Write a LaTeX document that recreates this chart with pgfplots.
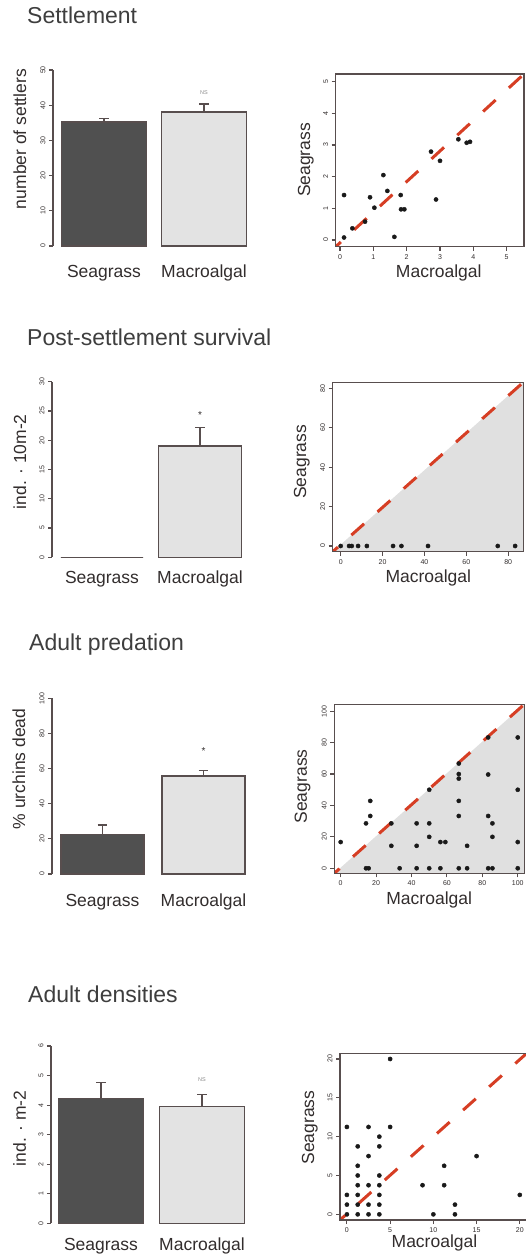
\documentclass[border=0pt]{standalone}
\usepackage{fontspec}
\setmainfont{Liberation Sans}
\usepackage{pgfplots}
\pgfplotsset{compat=1.18}
\definecolor{axc}{RGB}{88,78,78}
\definecolor{txt}{RGB}{50,45,45}
\definecolor{titc}{RGB}{62,62,62}
\definecolor{darkbar}{RGB}{80,80,80}
\definecolor{lightbar}{RGB}{227,227,227}
\definecolor{shade}{RGB}{224,224,224}
\definecolor{redc}{RGB}{214,62,36}
\definecolor{ptc}{RGB}{25,25,25}
\definecolor{nsc}{RGB}{140,140,140}
\newcommand\tickfont{\fontsize{7bp}{8bp}\selectfont}
\newcommand\labfont{\fontsize{17.5bp}{20bp}\selectfont}
\newcommand\titfont{\fontsize{23bp}{26bp}\selectfont}
\newcommand\nsfont{\fontsize{5.5bp}{6bp}\selectfont}
\newcommand\starfont{\fontsize{10bp}{12bp}\selectfont}

\pgfplotsset{
  barax/.style={scale only axis, anchor=south west, enlargelimits=false, clip=false,
    axis y line*=left, axis x line*=bottom,
    x axis line style={draw=none},
    y axis line style={line width=1.3bp, draw=axc, -},
    xtick={1,2}, xticklabels={Seagrass,Macroalgal},
    x tick style={draw=none},
    y tick style={line width=1.1bp, draw=axc},
    tick align=outside, major tick length=4bp,
    xticklabel style={font=\labfont, text=txt, anchor=base},
    yticklabel style={font=\tickfont, text=txt, rotate=90, anchor=south},
    ylabel style={font=\labfont, text=txt, anchor=base},
    /pgf/number format/assume math mode=true,
  },
  barbase/.style={ybar, bar shift=0pt, draw=axc, line width=1.3bp},
  barerr/.style={barbase,
    error bars/y dir=plus, error bars/y explicit,
    error bars/error bar style={line width=1.3bp, draw=axc, solid},
    error bars/error mark options={rotate=90, line width=1.3bp, draw=axc, mark size=4.8bp, solid}},
  scat/.style={scale only axis, anchor=south west, enlargelimits=false, axis on top,
    axis line style={line width=1.3bp, draw=axc},
    tick align=outside, xtick pos=left, ytick pos=left, major tick length=4bp,
    tick style={line width=1.1bp, draw=axc},
    xticklabel style={font=\tickfont, text=txt},
    yticklabel style={font=\tickfont, text=txt, rotate=90, anchor=south},
    xlabel={Macroalgal}, ylabel={Seagrass},
    xlabel style={font=\labfont, text=txt, anchor=base},
    ylabel style={font=\labfont, text=txt, anchor=base},
    /pgf/number format/assume math mode=true,
  },
  oneone/.style={draw=redc, line width=3bp, dash pattern=on 17bp off 18bp, dash phase=10bp},
  pts/.style={only marks, mark=*, mark size=2.1bp, mark options={fill=ptc, draw=ptc}},
}

\begin{document}
\begin{tikzpicture}
\path[use as bounding box] (0,0) rectangle (526bp,-1255bp);
\clip (0,0) rectangle (526bp,-1255bp);

% ---------- titles ----------
\node[anchor=base west, font=\titfont, text=titc, inner sep=0] at (27bp,-23.3bp) {Settlement};
\node[anchor=base west, font=\titfont, text=titc, inner sep=0] at (27bp,-345.3bp) {Post-settlement survival};
\node[anchor=base west, font=\titfont, text=titc, inner sep=0] at (29bp,-650.7bp) {Adult predation};
\node[anchor=base west, font=\titfont, text=titc, inner sep=0] at (28bp,-1002.7bp) {Adult densities};

% ---------- Settlement bars ----------
\begin{axis}[barax, at={(53bp,-246bp)}, width=197bp, height=176bp,
  xmin=0.49, xmax=2.46, ymin=0, ymax=50, ytick={0,10,...,50},
  xticklabel style={yshift=-27.3bp},
  ylabel={number of settlers}, ylabel style={at={(axis description cs:-0.137,0.608)}}]
\addplot[barerr, bar width=0.85, fill=darkbar] coordinates {(1,35.2) +- (0,1.1)};
\addplot[barerr, bar width=0.85, fill=lightbar] coordinates {(2,38.1) +- (0,2.2)};
\node[font=\nsfont, text=nsc] at (axis cs:2,43.5) {NS};
\end{axis}

% ---------- Settlement scatter ----------
\begin{axis}[scat, at={(335.7bp,-246.7bp)}, width=188.3bp, height=172.7bp,
  xmin=-0.13, xmax=5.52, ymin=-0.21, ymax=5.24, xtick={0,...,5}, ytick={0,...,5},
  xlabel style={at={(axis description cs:0.5475,-0.177)}},
  ylabel style={at={(axis description cs:-0.1365,0.502)}}]
\addplot[oneone] coordinates {(-0.13,-0.21) (5.52,5.24)};
\addplot[pts] coordinates {(0.12,1.42) (0.12,0.08) (0.37,0.37) (0.75,0.58) (0.9,1.35)
  (1.03,1.02) (1.3,2.05) (1.42,1.55) (1.63,0.1) (1.82,1.42) (1.83,0.97) (1.93,0.97)
  (2.73,2.79) (2.88,1.28) (3.0,2.5) (3.55,3.18) (3.8,3.07) (3.9,3.1)};
\end{axis}

% ---------- Post-settlement bars ----------
\begin{axis}[barax, at={(52bp,-557.3bp)}, width=198bp, height=175.6bp,
  xmin=0.49, xmax=2.51, ymin=0, ymax=30, ytick={0,5,...,30},
  xticklabel style={yshift=-22bp},
  ylabel={ind. · 10m-2}, ylabel style={at={(axis description cs:-0.131,0.544)}}]
\addplot[barbase, bar width=0.84, fill=darkbar] coordinates {(1,0)};
\addplot[barerr, bar width=0.845, fill=lightbar] coordinates {(2,19.0) +- (0,3.2)};
\node[font=\starfont, text=txt] at (axis cs:2,24.3) {*};
\end{axis}

% ---------- Post-settlement scatter ----------
\begin{axis}[scat, at={(332.7bp,-551.7bp)}, width=190.6bp, height=169.4bp,
  xmin=-3.82, xmax=87.2, ymin=-2.9, ymax=83.05, xtick={0,20,...,80}, ytick={0,20,...,80},
  xlabel style={at={(axis description cs:0.5016,-0.183)}},
  ylabel style={at={(axis description cs:-0.140,0.531)}}]
\addplot[fill=shade, draw=none] coordinates {(-3.82,-2.9) (87.2,83.05) (87.2,-2.9)};
\addplot[oneone] coordinates {(-3.82,-2.9) (87.2,83.05)};
\addplot[pts] coordinates {(0,0) (4,0) (5.3,0) (8.3,0) (12.5,0) (25,0) (29,0) (41.7,0) (75,0) (83.3,0)};
\end{axis}

% ---------- Adult predation bars ----------
\begin{axis}[barax, at={(52bp,-874bp)}, width=198bp, height=175.7bp,
  xmin=0.5, xmax=2.46, ymin=0, ymax=100, ytick={0,20,...,100},
  xticklabel style={yshift=-28bp},
  ylabel={\% urchins dead}, ylabel style={at={(axis description cs:-0.136,0.598)}}]
\addplot[barerr, bar width=0.82, fill=darkbar] coordinates {(1,22.6) +- (0,5.3)};
\addplot[barerr, bar width=0.82, fill=lightbar] coordinates {(2,55.8) +- (0,3.0)};
\node[font=\starfont, text=txt] at (axis cs:2,70.2) {*};
\end{axis}

% ---------- Adult predation scatter ----------
\begin{axis}[scat, at={(334.3bp,-873.3bp)}, width=190bp, height=169bp,
  xmin=-3.6, xmax=103.7, ymin=-3.2, ymax=104.4, xtick={0,20,...,100}, ytick={0,20,...,100},
  xlabel style={at={(axis description cs:0.4995,-0.182)}},
  ylabel style={at={(axis description cs:-0.145,0.514)}}]
\addplot[fill=shade, draw=none] coordinates {(-3.6,-3.2) (103.7,104.4) (103.7,-3.2)};
\addplot[oneone] coordinates {(-3.6,-3.2) (103.7,104.4)};
\addplot[pts] coordinates {(0,16.7) (14.3,28.6) (14.3,0) (15.8,0) (16.7,42.9) (16.7,33.3)
  (28.6,28.6) (28.6,14.3) (33.3,0) (42.9,28.6) (42.9,14.3) (42.9,0)
  (50,50) (50,28.6) (50,20) (50,0) (56.3,16.7) (59.1,16.7) (56.3,0)
  (66.7,66.7) (66.7,60) (66.7,57.1) (66.7,42.9) (66.7,33.3) (66.7,0)
  (71.4,14.3) (71.4,0) (83.3,83.3) (83.3,59.7) (83.3,33.3) (83.3,0)
  (85.7,0) (85.7,28.6) (85.7,20) (100,83.3) (100,50) (100,16.7) (100,0)};
\end{axis}

% ---------- Adult densities bars ----------
\begin{axis}[barax, at={(51bp,-1223.3bp)}, width=199bp, height=177.3bp,
  xmin=0.505, xmax=2.475, ymin=0, ymax=6, ytick={0,...,6},
  xticklabel style={yshift=-22.7bp},
  ylabel={ind. · m-2}, ylabel style={at={(axis description cs:-0.126,0.536)}}]
\addplot[barerr, bar width=0.84, fill=darkbar] coordinates {(1,4.23) +- (0,0.53)};
\addplot[barerr, bar width=0.84, fill=lightbar] coordinates {(2,3.95) +- (0,0.42)};
\node[font=\nsfont, text=nsc] at (axis cs:2,4.85) {NS};
\end{axis}

% ---------- Adult densities scatter ----------
\begin{axis}[scat, at={(340bp,-1220bp)}, width=186.7bp, height=166.7bp,
  xmin=-0.8, xmax=20.8, ymin=-0.73, ymax=20.73, xtick={0,5,...,20}, ytick={0,5,...,20},
  xlabel style={at={(axis description cs:0.506,-0.164)}},
  ylabel style={at={(axis description cs:-0.139,0.555)}}]
\addplot[oneone] coordinates {(-0.8,-0.73) (20.8,20.73)};
\addplot[pts] coordinates {(0,11.25) (0,2.5) (0,1.25) (0,0)
  (1.25,8.75) (1.25,6.25) (1.25,5) (1.25,3.75) (1.25,2.5) (1.25,1.25) (1.25,0)
  (2.5,11.25) (2.5,7.5) (2.5,3.75) (2.5,1.25) (2.5,0)
  (3.75,10) (3.75,8.75) (3.75,5) (3.75,3.75) (3.75,2.5) (3.75,1.25) (3.75,0)
  (5,20) (5,11.25) (8.75,3.75) (10,0) (11.25,6.25) (11.25,3.75)
  (12.5,1.25) (12.5,0) (15,7.5) (20,2.5)};
\end{axis}
\end{tikzpicture}
\end{document}
